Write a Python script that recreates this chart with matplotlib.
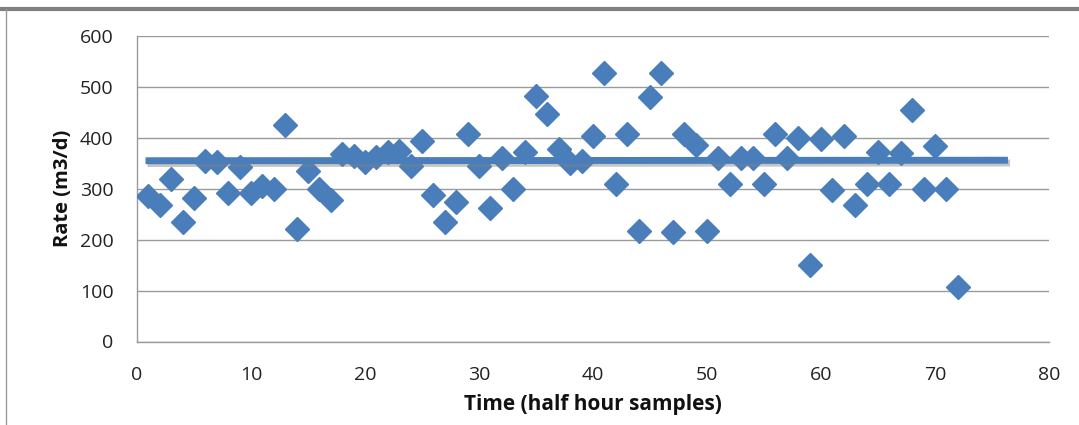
import matplotlib
matplotlib.use("Agg")
import matplotlib.pyplot as plt
import matplotlib.patheffects as pe
from matplotlib.lines import Line2D

# ---- data ----
samples = list(range(1, 73))
rate = [285, 268, 320, 235, 282, 355, 352, 292, 343, 292,
        305, 300, 425, 220, 335, 300, 278, 368, 365, 352,
        362, 372, 375, 345, 393, 288, 235, 273, 408, 345,
        263, 360, 300, 372, 483, 447, 378, 350, 355, 403,
        527, 310, 408, 218, 480, 527, 215, 408, 385, 218,
        360, 310, 360, 360, 310, 408, 360, 400, 150, 398,
        298, 403, 268, 310, 372, 310, 370, 455, 300, 383,
        300, 108]
trend_x = [0.75, 76.4]
trend_y = [355, 356]

x_ticks = [0, 10, 20, 30, 40, 50, 60, 70, 80]
y_ticks = [0, 100, 200, 300, 400, 500, 600]
x_label = "Time (half hour samples)"
y_label = "Rate (m3/d)"

BLUE = "#4A7EBB"
GRID = "#9A9A9A"

plt.rcParams["font.family"] = ["Open Sans", "DejaVu Sans"]

fig = plt.figure(figsize=(10.79, 4.25), dpi=100)
ax = fig.add_axes([137 / 1079, 1 - 341.5 / 425, (1049 - 137) / 1079, (341.5 - 36) / 425])

ax.plot(samples, rate, linestyle="none", marker="D", markersize=12,
        color=BLUE, markeredgecolor=BLUE, zorder=3)
ax.plot(trend_x, trend_y, color=BLUE, linewidth=5, solid_capstyle="butt", zorder=4,
        path_effects=[pe.SimpleLineShadow(offset=(1.5, -2), shadow_color="#808080", alpha=0.45),
                      pe.Normal()])

ax.set_xlim(0, 80)
ax.set_ylim(0, 600)
ax.set_xticks(x_ticks)
ax.set_yticks(y_ticks)
ax.yaxis.grid(True, color=GRID, linewidth=1)
ax.set_axisbelow(True)
ax.tick_params(axis="both", length=0, labelsize=14, colors="#222222")
ax.tick_params(axis="x", pad=18)
ax.tick_params(axis="y", pad=17)

for side in ["top", "right"]:
    ax.spines[side].set_visible(False)
for side in ["left", "bottom"]:
    ax.spines[side].set_color(GRID)
    ax.spines[side].set_linewidth(1)

ax.set_xlabel(x_label, fontsize=15, fontweight="bold", labelpad=7, color="#111111")
ax.set_ylabel(y_label, fontsize=14.5, fontweight="bold", labelpad=5, color="#111111")

# outer chart frame (top thick, left thin)
fig.add_artist(Line2D([0, 1], [1 - 8.5 / 425] * 2, transform=fig.transFigure,
                      color="#808080", linewidth=3))
fig.add_artist(Line2D([6 / 1079] * 2, [0, 1 - 8.5 / 425], transform=fig.transFigure,
                      color="#9A9A9A", linewidth=1))

fig.savefig("out.png", dpi=100)
